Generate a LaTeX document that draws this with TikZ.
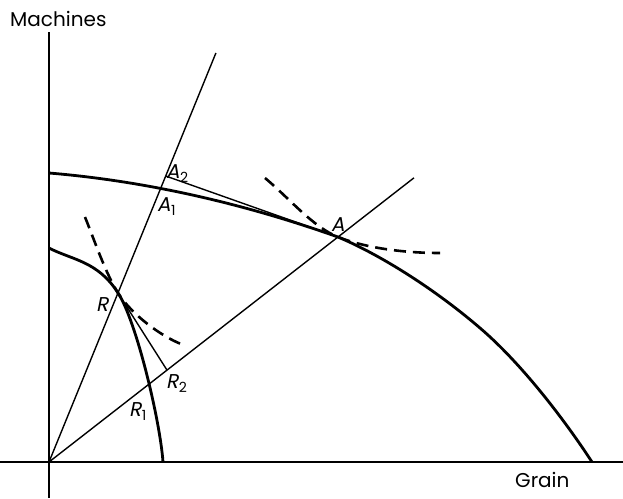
\documentclass[tikz,border=0pt]{standalone}
\usepackage{fontspec}
\setmainfont{Poppins}
\newfontfamily\lblfont[FakeSlant=0.2]{Poppins}
\newcommand\subs[1]{\kern0.5pt\raisebox{-0.45ex}{\fontsize{14}{14}\selectfont\rmfamily\upshape #1}}
\begin{document}
\begin{tikzpicture}[x=1pt,y=-1pt,
  axis/.style={line width=1.6pt},
  ray/.style={line width=1.4pt},
  frontier/.style={line width=2.8pt},
  indiff/.style={line width=2.6pt, dash pattern=on 12pt off 7pt},
  lbl/.style={font=\lblfont\fontsize{20}{20}\selectfont, inner sep=0pt, anchor=base west},
  axlabel/.style={font=\fontsize{20}{20}\selectfont, inner sep=0pt, anchor=base west}]
\useasboundingbox (0,0) rectangle (623,498);
% points
\coordinate (O) at (49,462);
\coordinate (Ytop) at (49,32);
\coordinate (Ybot) at (49,498);
\coordinate (Xl) at (0,462);
\coordinate (Xr) at (623,462);
\coordinate (T1) at (215.9,53);
\coordinate (T2) at (414,177.8);
\coordinate (A) at (338,237);
\coordinate (R) at (118,293);
\coordinate (A1) at (160.4,189);
\coordinate (A2) at (165.7,176);
\coordinate (R1) at (148,384.9);
\coordinate (R2) at (167,370.1);
\coordinate (Po) at (49,173);
\coordinate (Pm) at (480,328);
\coordinate (Pe) at (592,462);
\coordinate (Qo) at (49,248);
\coordinate (Qe) at (163,462);
\coordinate (Da) at (265,178);
\coordinate (Db) at (440,253);
\coordinate (Dc) at (85,217);
\coordinate (Dd) at (181,344);
% axes
\draw[axis] (Ytop) -- (Ybot);
\draw[axis] (Xl) -- (Xr);
% rays
\draw[ray] (O) -- (T1);
\draw[ray] (O) -- (T2);
% tangent lines
\draw[ray] (A2) -- (A);
\draw[ray] (R) -- (R2);
% outer frontier
\draw[frontier] (Po) .. controls (145,181) and (242,203) .. (A)
  .. controls (383,256) and (437,291) .. (Pm)
  .. controls (521,363) and (564,419) .. (Pe);
% inner frontier
\draw[frontier] (Qo) .. controls (72,260) and (98,261) .. (R)
  .. controls (136,320) and (160,420) .. (Qe);
% indifference curves
\draw[indiff] (Da) .. controls (290,199) and (313,227) .. (A)
  .. controls (363,247) and (400,253) .. (Db);
\draw[indiff] (Dc) .. controls (95,242) and (106,274) .. (R)
  .. controls (132,315) and (161,336) .. (Dd);
% labels
\node[axlabel] (mach) at (10,26) {Machines};
\node[axlabel] (grain) at (515,487) {Grain};
\node[lbl] (lA) at (331,231) {A};
\node[lbl] (lA2) at (166,178) {A\subs{2}};
\node[lbl] (lA1) at (157,211) {A\subs{1}};
\node[lbl] (lR) at (96,311) {R};
\node[lbl] (lR1) at (129,416) {R\subs{1}};
\node[lbl] (lR2) at (166,388) {R\subs{2}};
\end{tikzpicture}
\end{document}
